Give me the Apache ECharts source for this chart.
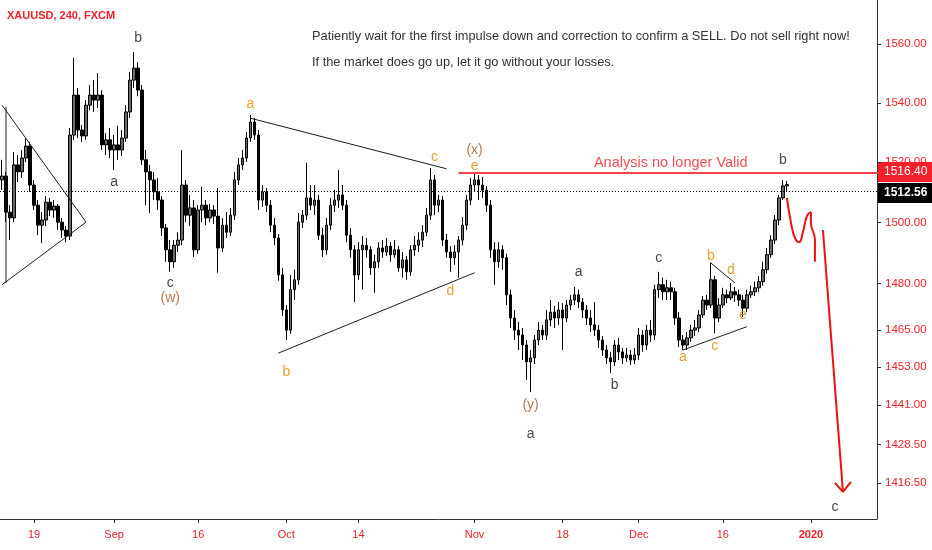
<!DOCTYPE html>
<html><head><meta charset="utf-8">
<script src="https://cdn.jsdelivr.net/npm/echarts@6/dist/echarts.min.js"></script>
<style>html,body{margin:0;padding:0;background:#fff}#c{width:932px;height:550px}</style>
</head><body><div id="c"></div><script>
// ---- candles (XAUUSD, two candles per trading day) ----
const opens = [1514.1,
1515.4,1503.4,1501.5,1519.1,1516.8,1521.4,1525.4,1512.4,1505.7,1499.1,
1500.8,1506.7,1504.1,1505.4,1500.1,1497.5,1495.5,1529.1,1542.6,1530.8,
1528.8,1539.2,1542.6,1540.9,1542.6,1525.8,1527.5,1524.1,1525.8,1524.1,
1528.1,1536.9,1547.7,1551.8,1544.3,1520.8,1516.8,1514.1,1510.1,1507.4,
1498.2,1491.0,1487.1,1492.5,1494.2,1512.4,1502.4,1504.8,1491.0,1504.1,
1505.7,1501.5,1504.1,1502.1,1491.6,1499.1,1496.8,1502.4,1514.1,1519.1,
1521.4,1528.1,1533.5,1529.1,1507.4,1510.1,1505.7,1499.1,1494.9,1482.8,
1471.4,1464.9,1478.0,1481.2,1500.1,1502.4,1508.1,1505.7,1507.4,1495.8,
1491.0,1499.1,1505.7,1507.4,1509.1,1505.7,1495.8,1491.0,1482.8,1491.0,
1492.5,1491.0,1485.1,1487.1,1491.6,1490.3,1492.2,1489.4,1491.0,1485.1,
1487.7,1483.8,1491.0,1492.5,1494.2,1496.8,1502.4,1514.1,1505.7,1507.4,
1494.2,1490.3,1488.4,1490.3,1494.2,1499.1,1507.4,1512.4,1514.1,1512.4,
1510.7,1505.7,1491.0,1487.1,1491.0,1488.4,1476.3,1468.8,1464.9,1463.3,
1460.1,1454.7,1456.0,1461.7,1464.9,1463.3,1468.2,1470.7,1468.8,1471.4,
1468.8,1473.0,1474.6,1476.3,1474.0,1471.4,1468.8,1466.6,1464.9,1461.7,
1458.5,1456.0,1454.7,1460.1,1457.9,1456.0,1456.9,1455.3,1456.9,1463.3,
1460.1,1464.9,1463.3,1478.0,1479.6,1477.3,1478.6,1477.3,1468.8,1461.7,
1460.1,1462.4,1464.9,1465.6,1469.8,1474.6,1473.0,1481.2,1468.8,1473.0,
1476.3,1475.3,1477.3,1476.3,1474.6,1472.0,1476.3,1477.3,1478.6,1480.6,
1484.5,1489.4,1494.2,1500.8,1508.1,1512.1];
const closes = [
1515.4,1503.4,1501.5,1519.1,1516.8,1521.4,1525.4,1512.4,1505.7,1499.1,
1500.8,1506.7,1504.1,1505.4,1500.1,1497.5,1495.5,1529.1,1542.6,1530.8,
1528.8,1539.2,1542.6,1540.9,1542.6,1525.8,1527.5,1524.1,1525.8,1524.1,
1528.1,1536.9,1547.7,1551.8,1544.3,1520.8,1516.8,1514.1,1510.1,1507.4,
1498.2,1491.0,1487.1,1492.5,1494.2,1512.4,1502.4,1504.8,1491.0,1504.1,
1505.7,1501.5,1504.1,1502.1,1491.6,1499.1,1496.8,1502.4,1514.1,1519.1,
1521.4,1528.1,1533.5,1529.1,1507.4,1510.1,1505.7,1499.1,1494.9,1482.8,
1471.4,1464.9,1478.0,1481.2,1500.1,1502.4,1508.1,1505.7,1507.4,1495.8,
1491.0,1499.1,1505.7,1507.4,1509.1,1505.7,1495.8,1491.0,1482.8,1491.0,
1492.5,1491.0,1485.1,1487.1,1491.6,1490.3,1492.2,1489.4,1491.0,1485.1,
1487.7,1483.8,1491.0,1492.5,1494.2,1496.8,1502.4,1514.1,1505.7,1507.4,
1494.2,1490.3,1488.4,1490.3,1494.2,1499.1,1507.4,1512.4,1514.1,1512.4,
1510.7,1505.7,1491.0,1487.1,1491.0,1488.4,1476.3,1468.8,1464.9,1463.3,
1460.1,1454.7,1456.0,1461.7,1464.9,1463.3,1468.2,1470.7,1468.8,1471.4,
1468.8,1473.0,1474.6,1476.3,1474.0,1471.4,1468.8,1466.6,1464.9,1461.7,
1458.5,1456.0,1454.7,1460.1,1457.9,1456.0,1456.9,1455.3,1456.9,1463.3,
1460.1,1464.9,1463.3,1478.0,1479.6,1477.3,1478.6,1477.3,1468.8,1461.7,
1460.1,1462.4,1464.9,1465.6,1469.8,1474.6,1473.0,1481.2,1468.8,1473.0,
1476.3,1475.3,1477.3,1476.3,1474.6,1472.0,1476.3,1477.3,1478.6,1480.6,
1484.5,1489.4,1494.2,1500.8,1508.1,1512.1,1512.56];
const highs = [
1520.8,1516.8,1505.7,1523.4,1522.4,1524.1,1528.1,1526.8,1514.1,1507.4,
1503.4,1508.7,1508.1,1507.4,1506.1,1501.5,1498.8,1531.5,1555.3,1545.0,
1532.5,1540.9,1546.0,1547.7,1550.1,1544.3,1529.8,1531.5,1529.1,1532.2,
1530.8,1539.2,1550.5,1557.3,1553.8,1546.0,1524.1,1519.1,1516.8,1514.7,
1508.7,1499.5,1494.2,1494.2,1496.8,1524.1,1514.1,1509.1,1507.4,1505.7,
1511.8,1507.4,1506.1,1505.7,1511.4,1501.5,1503.4,1504.8,1516.8,1521.4,
1524.1,1530.1,1535.9,1534.9,1530.8,1512.4,1511.4,1507.4,1501.5,1496.2,
1485.1,1473.0,1482.8,1484.5,1503.1,1504.1,1519.8,1512.4,1512.4,1509.1,
1498.2,1501.5,1508.1,1510.8,1517.4,1512.4,1507.4,1498.2,1492.5,1493.5,
1495.5,1494.9,1492.2,1489.4,1493.5,1494.2,1494.9,1493.5,1494.2,1492.2,
1490.3,1489.0,1492.5,1495.5,1496.8,1499.1,1504.8,1518.1,1515.7,1509.1,
1508.7,1496.2,1492.2,1492.5,1495.5,1501.8,1509.1,1514.7,1516.4,1515.7,
1515.1,1512.1,1507.4,1493.5,1493.5,1492.5,1489.7,1478.0,1471.4,1467.5,
1465.6,1461.7,1458.5,1463.3,1467.5,1466.6,1471.4,1474.6,1472.7,1474.0,
1473.6,1474.6,1476.3,1478.9,1478.0,1475.3,1473.0,1471.4,1474.0,1466.6,
1463.0,1460.1,1457.9,1461.7,1462.4,1459.2,1459.2,1458.5,1459.2,1465.6,
1464.9,1466.6,1468.2,1479.6,1483.8,1481.9,1481.2,1480.6,1478.6,1470.7,
1463.3,1464.3,1466.6,1468.2,1471.4,1475.9,1476.3,1486.8,1482.5,1475.3,
1478.6,1478.0,1480.2,1478.9,1478.0,1476.3,1478.0,1479.3,1480.6,1482.5,
1487.1,1491.6,1495.8,1502.4,1509.1,1514.1,1513.8];
const lows = [
1510.8,1500.1,1494.2,1500.1,1513.4,1514.7,1520.1,1510.1,1504.1,1495.8,
1493.2,1498.8,1502.1,1501.5,1497.5,1494.9,1493.5,1494.2,1527.5,1528.1,
1526.8,1527.5,1537.5,1536.9,1538.2,1524.1,1522.4,1521.4,1517.4,1520.8,
1522.1,1526.8,1534.9,1545.0,1542.2,1519.1,1505.7,1503.1,1507.4,1504.1,
1495.5,1487.1,1483.8,1485.1,1490.3,1492.5,1500.1,1498.8,1488.7,1489.7,
1500.1,1499.1,1500.1,1499.5,1483.5,1490.3,1494.9,1495.5,1500.8,1512.4,
1517.4,1520.1,1526.8,1527.5,1504.1,1505.1,1503.4,1496.8,1492.5,1480.9,
1469.4,1461.7,1463.7,1474.6,1479.6,1498.2,1500.8,1504.1,1502.4,1494.2,
1488.7,1489.4,1497.5,1503.4,1504.8,1504.1,1493.5,1488.4,1474.0,1481.2,
1478.0,1488.4,1482.8,1477.0,1485.1,1488.4,1489.0,1487.1,1488.4,1483.8,
1481.9,1481.2,1482.5,1489.0,1490.3,1491.9,1495.5,1500.8,1502.4,1503.4,
1492.2,1488.4,1483.8,1486.1,1481.9,1492.5,1497.5,1505.7,1510.1,1507.4,
1508.1,1503.4,1488.4,1479.6,1485.1,1484.5,1473.0,1465.6,1461.7,1458.5,
1455.3,1449.0,1445.1,1454.0,1460.1,1461.7,1461.7,1466.2,1465.6,1466.6,
1458.5,1467.5,1471.4,1473.0,1472.0,1468.8,1466.6,1464.3,1463.0,1459.2,
1456.6,1454.0,1451.2,1453.4,1455.3,1454.0,1454.7,1453.7,1454.0,1455.3,
1457.9,1458.5,1461.1,1461.7,1475.3,1474.6,1474.6,1474.6,1466.6,1459.5,
1458.5,1458.5,1461.1,1463.0,1464.3,1468.8,1471.4,1472.0,1463.9,1467.5,
1472.0,1473.6,1474.6,1474.0,1472.7,1469.1,1470.7,1475.3,1475.9,1477.3,
1479.3,1483.2,1488.4,1492.9,1499.1,1507.4,1510.1];

// ---- axes ----
const futureSlots = 22;                       // empty periods to the right of the last candle
const xTickLabels = ['19','Sep','16','Oct','14','Nov','18','Dec','16','2020'];
const xTickPeriod = [8,28,49,71,89,118,140,159,180,202];
const yTickValues = [1416.5,1428.5,1441,1453,1465,1480,1500,1520,1540,1560];
const yTop = 1575.2, yBottom = 1405.3;

// ---- levels ----
const invalidLevel = 1516.40;
const lastPrice = 1512.56;
const spreadLine = 1510.9;

// ---- wave labels: [text, period, price, kind] ----
const waveLabels = [
 ['b',33.5,1562.1,'k'],['a',27.75,1513.4,'k'],['c',41.5,1480.2,'k'],['(w)',41.5,1475.3,'w'],
 ['a',62,1539.6,'o'],['b',71,1451.5,'o'],['c',108,1521.8,'o'],['(x)',117.75,1524.1,'w'],
 ['e',117.75,1518.8,'o'],['d',111.5,1477.6,'o'],['(y)',131.5,1441.0,'w'],['a',131.5,1431.8,'k'],
 ['a',144,1483.8,'k'],['b',152.5,1447.4,'k'],['c',164,1488.4,'k'],['b',176.75,1489.0,'o'],
 ['d',181.75,1484.5,'o'],['a',170,1456.3,'o'],['c',177.5,1459.8,'o'],['e',184.5,1469.8,'o'],
 ['b',195.25,1520.8,'k'],['c',207.5,1409.0,'k']
];
const invalidText = ['Analysis no longer Valid',166.5,1519.8];

// ---- drawn trend lines: lists of [period, price] ----
const trendLines = [
 [[-0.5,1539.2],[21,1500.1],[-0.5,1479.6]],
 [[0.5,1538.6],[0.5,1480.2]],
 [[61.75,1534.8],[110.5,1517.8]],
 [[69,1457.5],[117.5,1483.5]],
 [[170.25,1458.5],[185.75,1466.0]],
 [[176.5,1486.7],[183.25,1480.2]]
];
const invalidFrom = 114.25, invalidTo = 218.5;
const scenarioCurve = [[196.25,1508.1],[196.75,1500.1],[197.5,1494.9],[198.5,1493.5],[199.5,1496.8],
 [200.5,1502.1],[201.5,1503.4],[202.25,1500.1],[202.75,1494.2],[203.25,1487.1]];
const scenarioArrow = [[204.5,1497.5],[210.25,1413.7]];
const arrowHead = [[208.25,1416.5],[210.25,1413.7],[212.25,1416.8]];

const headerTitle = 'XAUUSD, 240, FXCM';
const noteLines = ['Patiently wait for the first impulse down and correction to confirm a SELL. Do not sell right now!',
                   'If the market does go up, let it go without your losses.'];

// ---- build ----
const L = Math.log;
const RED = '#f0212b', FONT = 'Liberation Sans, Arial, sans-serif';
const N = closes.length;
const cats = new Array(N + futureSlots).fill('');
xTickPeriod.forEach((p, k) => { cats[p] = xTickLabels[k]; });
const candleData = closes.map((c, i) => [L(opens[i]), L(c), L(lows[i]), L(highs[i])]);
const palette = { k: '#131313', o: '#e08900', w: '#a4561f' };
const toPts = arr => arr.map(p => [p[0], L(p[1])]);
const lineSeries = (pts, color, width, smooth) => ({
  type: 'line', data: toPts(pts), symbol: 'none', smooth: smooth || false, silent: true,
  lineStyle: { color, width }, z: 5
});

const series = [{
  type: 'candlestick', data: candleData, barWidth: 3,
  itemStyle: { color: '#6a6a6a', color0: '#000000', borderColor: '#000000', borderColor0: '#000000', borderWidth: 1 },
  markLine: {
    silent: true, symbol: 'none', label: { show: false },
    lineStyle: { color: '#000', type: [1, 2], width: 1 },
    data: [{ yAxis: L(lastPrice) }, { yAxis: L(spreadLine) }]
  }, z: 3
}];
trendLines.forEach(t => series.push(lineSeries(t, '#1e1e1e', 1)));
series.push(lineSeries([[invalidFrom, invalidLevel], [invalidTo, invalidLevel]], '#f4434c', 1.8));
series.push(lineSeries(scenarioCurve, '#ee1111', 2, 0.55));
series.push(lineSeries(scenarioArrow, '#ee1111', 2));
series.push(lineSeries(arrowHead, '#ee1111', 2));
series.push({
  type: 'scatter', symbolSize: 1, itemStyle: { color: 'rgba(0,0,0,0)' }, silent: true, z: 8,
  data: waveLabels.map(w => ({ name: w[0], value: [w[1], L(w[2])], label: { color: palette[w[3]] } }))
    .concat([{ name: invalidText[0], value: [invalidText[1], L(invalidText[2])],
               label: { color: RED, fontSize: 14.5 } }]),
  label: { show: true, position: 'inside', formatter: '{b}', fontSize: 14, fontFamily: FONT }
});

const chart = echarts.init(document.getElementById('c'), null, { renderer: 'canvas' });
chart.setOption({
  animation: false,
  backgroundColor: '#ffffff',
  grid: { left: 0, right: 55, top: 0, bottom: 31 },
  xAxis: {
    type: 'category', data: cats, boundaryGap: true,
    axisLine: { lineStyle: { color: '#333', width: 1 } },
    axisTick: { show: true, alignWithLabel: true, length: 4, interval: (i, v) => v !== '', lineStyle: { color: '#333' } },
    axisLabel: {
      interval: (i, v) => v !== '', margin: 10, color: RED, fontSize: 11, fontFamily: FONT,
      formatter: v => v === '2020' ? '{b|2020}' : v,
      rich: { b: { fontWeight: 'bold', color: RED, fontSize: 11, fontFamily: FONT } }
    },
    splitLine: { show: false }
  },
  yAxis: {
    type: 'value', position: 'right', min: L(yBottom), max: L(yTop), scale: true,
    axisLine: { show: true, lineStyle: { color: '#333', width: 1 } },
    axisTick: { show: true, length: 4, customValues: yTickValues.map(L), lineStyle: { color: '#333' } },
    axisLabel: { customValues: yTickValues.map(L), margin: 8, color: RED, fontSize: 11.5, fontFamily: FONT,
      formatter: v => Math.exp(v).toFixed(2) },
    splitLine: { show: false }
  },
  series,
  graphic: [
    { type: 'text', left: 7, top: 10, z: 100, style: { text: headerTitle, fill: RED, font: 'bold 11px ' + FONT } },
    { type: 'text', left: 312, top: 30, z: 100, style: { text: noteLines[0], fill: '#333', font: '12.8px ' + FONT } },
    { type: 'text', left: 312, top: 56, z: 100, style: { text: noteLines[1], fill: '#333', font: '12.8px ' + FONT } },
    { type: 'group', right: 0, top: 162, z: 100, children: [
      { type: 'rect', shape: { x: 0, y: 0, width: 55, height: 20 }, style: { fill: '#f5202a' } },
      { type: 'text', x: 7, y: 4, style: { text: invalidLevel.toFixed(2), fill: '#fff', font: '12px ' + FONT } }
    ]},
    { type: 'group', right: 0, top: 183, z: 100, children: [
      { type: 'rect', shape: { x: 0, y: 0, width: 55, height: 20 }, style: { fill: '#000' } },
      { type: 'text', x: 7, y: 4, style: { text: lastPrice.toFixed(2), fill: '#fff', font: 'bold 12px ' + FONT } }
    ]}
  ]
});
</script></body></html>
